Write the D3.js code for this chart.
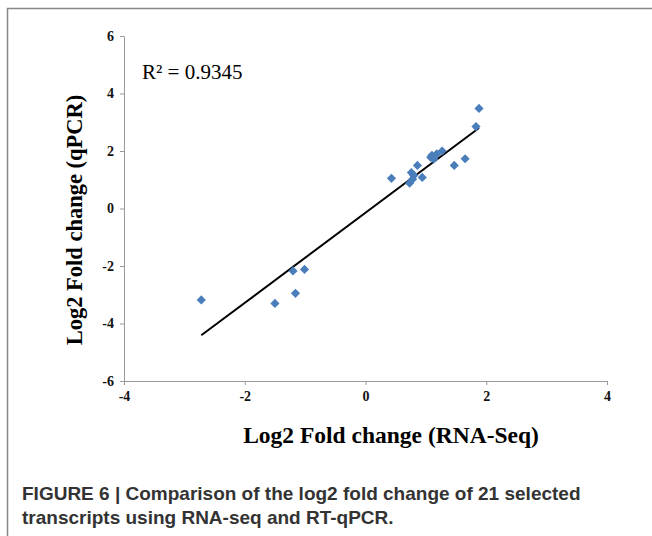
<!DOCTYPE html>
<html lang="en">
<head>
<meta charset="UTF-8">
<title>Log2 fold change RNA-Seq vs qPCR</title>
<script src="https://d3js.org/d3.v7.min.js"></script>
<style>
  body { margin: 0; background: #fff; }
  .domain, .tick line { stroke: #999; }
</style>
</head>
<body>
<div id="chart"></div>
<script>
    // data (log2 fold change)
    const rnaSeq = [1.88, 1.83, 1.65, 1.47, 1.27, 1.18, 1.10, 1.13, 0.86, 0.76, 0.73,
                    0.78, 0.94, 0.43, 0.80, 1.08, -2.72, -1.50, -1.20, -1.01, -1.16];
    const qPCR   = [3.48, 2.85, 1.73, 1.50, 2.00, 1.90, 1.85, 1.72, 1.50, 1.25, 0.88,
                    1.02, 1.08, 1.05, 1.15, 1.78, -3.18, -3.30, -2.17, -2.12, -2.95];
    const xTicks = [-4, -2, 0, 2, 4];
    const yTicks = [-6, -4, -2, 0, 2, 4, 6];
    // linear trendline as shown
    const trendSlope = 1.567;
    const trendIntercept = -0.147;
    const rSquared = "R\u00b2 = 0.9345";
    const captionLines = [
        "FIGURE 6 | Comparison of the log2 fold change of 21 selected",
        "transcripts using RNA-seq and RT-qPCR."
    ];

    const width = 652, height = 536;
    const svg = d3.select("#chart").append("svg")
        .attr("width", width)
        .attr("height", height);

    // frame
    svg.append("path")
        .attr("d", "M7.5,536 V8.5 H652")
        .attr("fill", "none")
        .attr("stroke", "#888")
        .attr("stroke-width", 1.5);

    const x = d3.scaleLinear().domain([-4, 4]).range([124, 607]);
    const y = d3.scaleLinear().domain([-6, 6]).range([381, 36]);

    function styleTicks(g) {
        g.attr("font-family", "Liberation Serif, serif")
            .attr("font-size", 14)
            .attr("font-weight", "bold");
        g.selectAll(".tick text").attr("fill", "#111");
    }

    svg.append("g")
        .attr("transform", "translate(0," + y(-6) + ")")
        .call(d3.axisBottom(x).tickValues(xTicks).tickFormat(d => String(d))
            .tickSize(4).tickSizeOuter(0).tickPadding(6))
        .call(styleTicks);

    svg.append("g")
        .attr("transform", "translate(" + x(-4) + ",0)")
        .call(d3.axisLeft(y).tickValues(yTicks).tickFormat(d => String(d))
            .tickSize(4).tickSizeOuter(0).tickPadding(6))
        .call(styleTicks);

    // trendline across data range
    const xMin = d3.min(rnaSeq), xMax = d3.max(rnaSeq);
    svg.append("line")
        .attr("x1", x(xMin)).attr("y1", y(trendSlope * xMin + trendIntercept))
        .attr("x2", x(xMax)).attr("y2", y(trendSlope * xMax + trendIntercept))
        .attr("stroke", "#000")
        .attr("stroke-width", 2);

    // diamond markers
    const diamond = d3.symbol().type(d3.symbolSquare).size(42);
    svg.selectAll(".pt")
        .data(rnaSeq.map((d, i) => [d, qPCR[i]]))
        .enter()
        .append("path")
        .attr("class", "pt")
        .attr("d", diamond)
        .attr("transform", d => "translate(" + x(d[0]) + "," + y(d[1]) + ") rotate(45)")
        .attr("fill", "#4a7ebb");

    svg.append("text")
        .attr("x", 142)
        .attr("y", 79)
        .style("font-family", "Liberation Serif, serif")
        .style("font-size", "21px")
        .text(rSquared);

    // axis titles
    svg.append("text")
        .attr("x", 391)
        .attr("y", 443)
        .attr("text-anchor", "middle")
        .style("font-family", "Liberation Serif, serif")
        .style("font-weight", "bold")
        .style("font-size", "23.5px")
        .text("Log2 Fold change (RNA-Seq)");

    svg.append("text")
        .attr("transform", "translate(82,220) rotate(-90)")
        .attr("text-anchor", "middle")
        .style("font-family", "Liberation Serif, serif")
        .style("font-weight", "bold")
        .style("font-size", "22.5px")
        .text("Log2 Fold change (qPCR)");

    // caption
    svg.selectAll(".caption")
        .data(captionLines)
        .enter()
        .append("text")
        .attr("class", "caption")
        .attr("x", 22)
        .attr("y", (d, i) => 500 + i * 24)
        .style("font-family", "Liberation Sans, Arial, sans-serif")
        .style("font-weight", "bold")
        .style("font-size", "19px")
        .attr("fill", "#333")
        .text(d => d);
</script>
</body>
</html>
